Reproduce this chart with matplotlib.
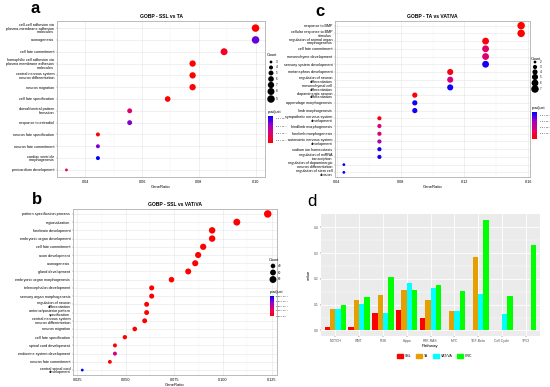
import numpy as np
import matplotlib.pyplot as plt
from matplotlib.colors import LinearSegmentedColormap, Normalize
from matplotlib.cm import ScalarMappable
from matplotlib.patches import Patch

plt.rcParams['font.family'] = ['Liberation Sans', 'DejaVu Sans']

W, H = 550, 387

# panel a : GOBP - SSL vs TA
a_terms = ['cell-cell adhesion via\nplasma-membrane adhesion\nmolecules', 'axonogenesis',
           'cell fate commitment',
           'homophilic cell adhesion via\nplasma membrane adhesion\nmolecules',
           'central nervous system\nneuron differentiation', 'neuron migration',
           'cell fate specification', 'dorsal/ventral pattern\nformation',
           'response to estradiol', 'neuron fate specification', 'neuron fate commitment',
           'cardiac ventricle\nmorphogenesis', 'pericardium development']
a_ratio = [0.100, 0.100, 0.0889, 0.0778, 0.0778, 0.0778, 0.069, 0.0556, 0.0556,
           0.0444, 0.0444, 0.0444, 0.0333]
a_count = [9, 9, 8, 7, 7, 7, 6, 5, 5, 4, 4, 4, 3]
a_padj = [0.0007, 0.0036, 0.0011, 0.0007, 0.0007, 0.0008, 0.0007, 0.0019, 0.0034,
          0.0008, 0.0034, 0.0044, 0.0014]

# panel b : GOBP - SSL vs VAT/VA
b_terms = ['pattern specification process', 'regionalization', 'forebrain development',
           'embryonic organ development', 'cell fate commitment', 'axon development',
           'axonogenesis', 'gland development', 'embryonic organ morphogenesis',
           'telencephalon development', 'sensory organ morphogenesis',
           'regulation of neuron\ndifferentiation', 'anterior/posterior pattern\nspecification',
           'central nervous system\nneuron differentiation', 'neuron migration',
           'cell fate specification', 'spinal cord development',
           'endocrine system development', 'neuron fate commitment',
           'central spinal cord\ndevelopment']
b_ratio = [0.1230, 0.1071, 0.0944, 0.0944, 0.0898, 0.0872, 0.0857, 0.0821, 0.0735,
           0.0633, 0.0633, 0.0607, 0.0607, 0.0597, 0.0546, 0.0495, 0.0444, 0.0444,
           0.0418, 0.0276]
b_count = [92, 80, 71, 71, 67, 65, 64, 62, 55, 47, 47, 45, 45, 45, 41, 37, 33, 33, 31, 21]
b_padj = [0, 0, 0, 0, 0, 0, 0, 0, 0, 0, 0, 0, 0, 0, 0, 0, 0, 3.6e-4, 0, 8.45e-4]

# panel c : GOBP - TA vs VAT/VA
c_terms = ['response to BMP', 'cellular response to BMP\nstimulus',
           'regulation of animal organ\nmorphogenesis', 'cell fate commitment',
           'mesenchyme development', 'sensory system development',
           'metanephros development', 'regulation of neuron\ndifferentiation',
           'mesenchymal cell\ndifferentiation', 'dopaminergic neuron\ndifferentiation',
           'appendage morphogenesis', 'limb morphogenesis',
           'sympathetic nervous system\ndevelopment', 'hindlimb morphogenesis',
           'forelimb morphogenesis', 'autonomic nervous system\ndevelopment',
           'sodium ion homeostasis', 'regulation of miRNA\ntranscription',
           'regulation of dopaminergic\nneuron differentiation',
           'regulation of stem cell\ndivision']
c_ratio = [0.1556, 0.1556, 0.1333, 0.1333, 0.1333, 0.1333, 0.1111, 0.1111, 0.1111,
           0.0889, 0.0889, 0.0889, 0.0667, 0.0667, 0.0667, 0.0667, 0.0667, 0.0667,
           0.0444, 0.0444]
c_count = [7, 7, 6, 6, 6, 6, 5, 5, 5, 4, 4, 4, 3, 3, 3, 3, 3, 3, 2, 2]
c_padj = [2e-5, 2e-5, 1.2e-4, 7e-4, 8e-4, 2.2e-3, 1.2e-4, 9e-4, 2.2e-3, 7e-5,
          2.2e-3, 2.2e-3, 1.2e-4, 8e-4, 8e-4, 1.4e-3, 2.2e-3, 2.2e-3, 2.3e-3, 2.3e-3]

# panel d : pathway bars
pathways = ['NOTCH', 'WNT', 'PI3K', 'Hippo', 'RTK-RAS', 'MYC', 'TGF-Beta', 'Cell Cycle', 'TP53']
ssl = [0.013, 0.014, 0.068, 0.078, 0.047, 0, 0, 0, 0]
ta = [0.083, 0.117, 0.138, 0.157, 0.117, 0.077, 0.284, 0, 0]
vat = [0.083, 0.103, 0.068, 0.184, 0.165, 0.077, 0.143, 0.065, 0]
crc = [0.097, 0.131, 0.206, 0.157, 0.175, 0.153, 0.430, 0.132, 0.332]
groups = ['SSL', 'TA', 'VAT/VA', 'CRC']
group_colors = ['#FF0000', '#E69F00', '#00FFFF', '#00FF00']

cmap = LinearSegmentedColormap.from_list('padj', ['#FF0000', '#E0006E', '#A000C8', '#0000FF'])

fig = plt.figure(figsize=(5.5, 3.87), dpi=100)

D0, D1 = 2.8, 7.5   # dot diameters in px (smallest / largest count)


def box(l, t, r, b):
    return [l / W, 1 - b / H, (r - l) / W, (b - t) / H]


def dsize(c, cmin, cmax):
    c = np.asarray(c, float)
    d = np.sqrt(D0 ** 2 + (D1 ** 2 - D0 ** 2) * (c - cmin) / (cmax - cmin))
    return (d * 0.72) ** 2


def dotplot(rect, terms, ratio, count, padj, norm, xticks, xlabels, title):
    ax = fig.add_axes(box(*rect))
    n = len(terms)
    y = np.arange(n, 0, -1)
    ax.scatter(ratio, y, s=dsize(count, min(count), max(count)), c=padj,
               cmap=cmap, norm=norm, linewidths=0, zorder=3)
    lo, hi = min(ratio), max(ratio)
    pad = 0.05 * (hi - lo)
    ax.set_xlim(lo - pad, hi + pad)
    ax.set_ylim(0.4, n + 0.6)
    ax.set_yticks(y)
    ax.set_yticklabels(terms, fontsize=2.7, linespacing=0.95)
    ax.set_xticks(xticks)
    ax.set_xticklabels(xlabels, fontsize=2.7)
    mids = [(xticks[i] + xticks[i + 1]) / 2 for i in range(len(xticks) - 1)]
    ax.set_xticks(mids, minor=True)
    ax.grid(which='major', color='#E5E5E5', lw=0.4)
    ax.grid(which='minor', axis='x', color='#F0F0F0', lw=0.25)
    ax.set_axisbelow(True)
    for sp in ax.spines.values():
        sp.set_color('#B0B0B0')
        sp.set_linewidth(0.6)
    ax.tick_params(which='both', length=1, width=0.3, pad=1, color='#888888')
    ax.tick_params(which='minor', length=0)
    ax.set_title(title, fontsize=3.6, fontweight='bold', pad=2)
    ax.set_xlabel('GeneRatio', fontsize=3, labelpad=1)
    return ax


norm_a = Normalize(min(a_padj), max(a_padj))
norm_b = Normalize(0, max(b_padj))
norm_c = Normalize(min(c_padj), max(c_padj))

dotplot((57, 21, 265, 177), a_terms, a_ratio, a_count, a_padj, norm_a,
        [0.04, 0.06, 0.08, 0.10], ['0.04', '0.06', '0.08', '0.10'], 'GOBP - SSL vs TA')
dotplot((73, 209, 277, 375), b_terms, b_ratio, b_count, b_padj, norm_b,
        [0.025, 0.05, 0.075, 0.10, 0.125], ['0.025', '0.050', '0.075', '0.100', '0.125'],
        'GOBP - SSL vs VAT/VA')
dotplot((335, 21, 530, 177), c_terms, c_ratio, c_count, c_padj, norm_c,
        [0.04, 0.08, 0.12, 0.16], ['0.04', '0.08', '0.12', '0.16'], 'GOBP - TA vs VAT/VA')

# panel d
ax = fig.add_axes(box(321, 214, 540, 336))
ax.set_facecolor('#EBEBEB')
x = np.arange(1, len(pathways) + 1)
w = 0.225
for i, (vals, name, col) in enumerate(zip([ssl, ta, vat, crc], groups, group_colors)):
    ax.bar(x + (i - 1.5) * w, vals, w, color=col, label=name, zorder=3)
ax.set_xlim(0.4, len(pathways) + 0.6)
ax.set_ylim(-0.0215, 0.4515)
ax.set_xticks(x)
ax.set_xticklabels(pathways, fontsize=2.4, color='#4D4D4D')
ax.set_yticks([0.0, 0.1, 0.2, 0.3, 0.4])
ax.set_yticklabels(['0.0', '0.1', '0.2', '0.3', '0.4'], fontsize=2.4, color='#4D4D4D')
ax.set_yticks([0.05, 0.15, 0.25, 0.35], minor=True)
ax.grid(which='major', color='white', lw=0.6)
ax.grid(which='minor', axis='y', color='white', lw=0.3)
ax.set_axisbelow(True)
for sp in ax.spines.values():
    sp.set_visible(False)
ax.tick_params(which='both', length=1, width=0.3, pad=1, color='#333333')
ax.tick_params(which='minor', length=0)
ax.set_xlabel('Pathway', fontsize=3.2, labelpad=1)
ax.set_ylabel('value', fontsize=3.2, labelpad=2)
handles = [Patch(color=c, label=g) for g, c in zip(groups, group_colors)]
ax.legend(handles=handles, loc='center', bbox_to_anchor=(435 / W, 1 - 356 / H),
          bbox_transform=fig.transFigure, ncol=4, frameon=False, fontsize=2.5,
          handlelength=1.7, handleheight=1.7, columnspacing=1.3, handletextpad=0.6)

# overlay in pixel coordinates for legends and panel letters
ov = fig.add_axes([0, 0, 1, 1])
ov.set_xlim(0, W)
ov.set_ylim(H, 0)
ov.axis('off')


def size_legend(x0, ytitle, shown, ys, count):
    ov.text(x0 - 4, ytitle, 'Count', fontsize=2.8, va='center')
    ov.scatter([x0] * len(shown), ys, s=dsize(shown, min(count), max(count)),
               color='black', linewidths=0)
    for c, yy in zip(shown, ys):
        ov.text(x0 + 5, yy, str(c), fontsize=2.2, va='center')


def color_legend(rect, ytitle, norm, ticks, labels):
    ov.text(rect[0], ytitle, 'p.adjust', fontsize=2.8, va='center')
    cax = fig.add_axes(box(*rect))
    cb = fig.colorbar(ScalarMappable(norm=norm, cmap=cmap), cax=cax)
    cb.outline.set_visible(False)
    cb.set_ticks(ticks)
    cb.set_ticklabels(labels)
    cax.tick_params(labelsize=1.6, length=1, width=0.3, pad=0.8, color='white')


size_legend(271, 55, [3, 4, 5, 6, 7, 8, 9], [62, 67.5, 73, 79, 85, 91.5, 99], a_count)
color_legend((268, 116, 273, 143), 112, norm_a, [0.001, 0.002, 0.003, 0.004],
             ['1.0 × 10⁻³', '2.0 × 10⁻³', '3.0 × 10⁻³', '4.0 × 10⁻³'])

size_legend(273, 260, [40, 60, 80], [266, 272.5, 279.5], b_count)
color_legend((270, 296, 274, 316), 292, norm_b, [0, 2.12e-4, 4.23e-4, 6.34e-4, 8.45e-4],
             ['0.00 × 10⁰', '2.12 × 10⁻⁴', '4.23 × 10⁻⁴', '6.34 × 10⁻⁴', '8.45 × 10⁻⁴'])

size_legend(535, 59, [2, 3, 4, 5, 6, 7], [62, 67, 72, 77, 83, 89], c_count)
color_legend((532, 112, 537, 139), 108, norm_c, [5e-4, 1e-3, 1.5e-3, 2e-3],
             ['5.0 × 10⁻⁴', '1.0 × 10⁻³', '1.5 × 10⁻³', '2.0 × 10⁻³'])

ov.text(35, 13, 'a', fontsize=12, fontweight='bold', ha='center', va='baseline')
ov.text(37, 204, 'b', fontsize=12, fontweight='bold', ha='center', va='baseline')
ov.text(320, 16, 'c', fontsize=12, fontweight='bold', ha='center', va='baseline')
ov.text(312, 206, 'd', fontsize=12, ha='center', va='baseline')

fig.savefig('out.png', dpi=100)
